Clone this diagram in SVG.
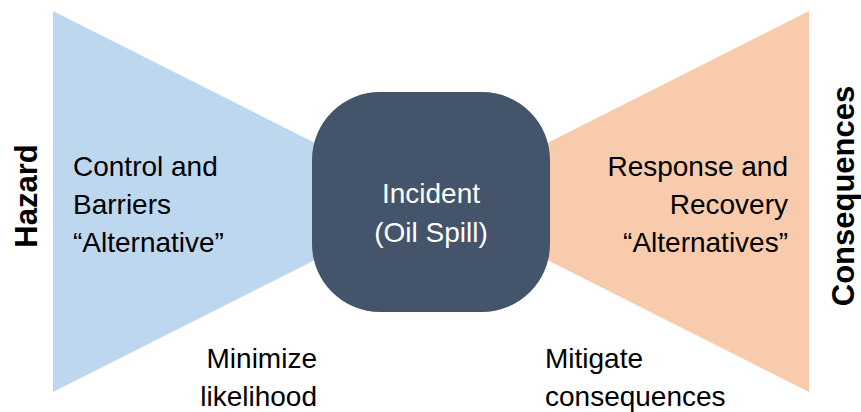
<svg xmlns="http://www.w3.org/2000/svg" width="861" height="412" viewBox="0 0 861 412">
<style>
.t{font-family:"Liberation Sans",Arial,sans-serif;font-size:28px;fill:#000}
.w{fill:#fff}
.b{font-family:"Liberation Sans",Arial,sans-serif;font-size:31px;font-weight:bold;fill:#000}
</style>
<rect width="861" height="412" fill="#fff"/>
<g id="controls">
<polygon points="53,11 53,392 431,201.5" fill="#BDD7EE"/>
<text class="t" x="73" y="176">Control and</text>
<text class="t" x="73" y="214">Barriers</text>
<text class="t" x="73" y="252">“Alternative”</text>
</g>
<g id="response">
<polygon points="809,11 809,392 431,201.5" fill="#F8CBAD"/>
<text class="t" x="788" y="176" text-anchor="end">Response and</text>
<text class="t" x="788" y="214" text-anchor="end">Recovery</text>
<text class="t" x="788" y="252" text-anchor="end">“Alternatives”</text>
</g>
<g id="incident">
<rect x="312" y="92" width="238" height="220" rx="68" ry="68" fill="#44546A"/>
<text class="t w" x="431" y="203" text-anchor="middle">Incident</text>
<text class="t w" x="431" y="242" text-anchor="middle">(Oil Spill)</text>
</g>
<g id="hazard">
<text class="b" transform="translate(37,196) rotate(-90)" text-anchor="middle">Hazard</text>
</g>
<g id="consequences">
<text class="b" transform="translate(854,196) rotate(-90)" text-anchor="middle">Consequences</text>
</g>
<g id="minimize">
<text class="t" x="317" y="368" text-anchor="end">Minimize</text>
<text class="t" x="317" y="406" text-anchor="end">likelihood</text>
</g>
<g id="mitigate">
<text class="t" x="545" y="368">Mitigate</text>
<text class="t" x="545" y="406">consequences</text>
</g>
<g id="connectors"></g>
</svg>
